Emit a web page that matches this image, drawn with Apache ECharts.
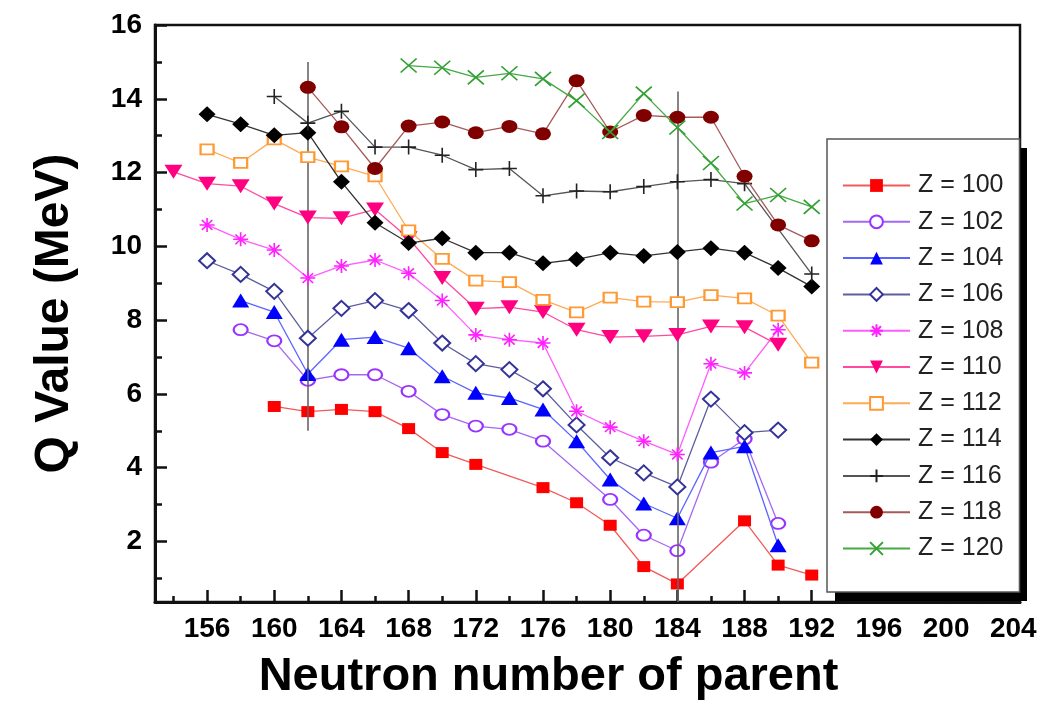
<!DOCTYPE html>
<html><head><meta charset="utf-8">
<script src="https://cdn.jsdelivr.net/npm/echarts@6/dist/echarts.min.js"></script>
<style>html,body{margin:0;padding:0;background:#fff}#c{width:1040px;height:706px}</style>
</head><body><div id="c"></div>
<script>
// ---- data (neutron number of parent, Q value in MeV) ----
const z100 = [[160,5.66],[162,5.52],[164,5.58],[166,5.52],[168,5.06],[170,4.41],[172,4.09],[176,3.46],[178,3.05],[180,2.44],[182,1.32],[184,0.85],[188,2.56],[190,1.36],[192,1.09]];
const z102 = [[158,7.74],[160,7.44],[162,6.37],[164,6.52],[166,6.52],[168,6.07],[170,5.44],[172,5.13],[174,5.04],[176,4.72],[180,3.14],[182,2.17],[184,1.75],[186,4.15],[188,4.78],[190,2.49]];
const z104 = [[158,8.53],[160,8.22],[162,6.54],[164,7.47],[166,7.54],[168,7.24],[170,6.48],[172,6.03],[174,5.89],[176,5.58],[178,4.72],[180,3.68],[182,3.03],[184,2.63],[186,4.41],[188,4.58],[190,1.9]];
const z106 = [[156,9.61],[158,9.24],[160,8.78],[162,7.51],[164,8.32],[166,8.53],[168,8.26],[170,7.38],[172,6.82],[174,6.66],[176,6.14],[178,5.16],[180,4.27],[182,3.86],[184,3.48],[186,5.86],[188,4.95],[190,5.02]];
const z108 = [[156,10.58],[158,10.19],[160,9.9],[162,9.14],[164,9.47],[166,9.63],[168,9.27],[170,8.53],[172,7.6],[174,7.47],[176,7.38],[178,5.53],[180,5.1],[182,4.72],[184,4.36],[186,6.82],[188,6.57],[190,7.74]];
const z110 = [[154,12.02],[156,11.7],[158,11.63],[160,11.16],[162,10.78],[164,10.76],[166,11.0],[168,10.22],[170,9.14],[172,8.31],[174,8.35],[176,8.22],[178,7.74],[180,7.54],[182,7.56],[184,7.6],[186,7.83],[188,7.81],[190,7.33]];
const z112 = [[156,12.63],[158,12.26],[160,12.9],[162,12.42],[164,12.17],[166,11.9],[168,10.43],[170,9.66],[172,9.07],[174,9.03],[176,8.55],[178,8.21],[180,8.61],[182,8.5],[184,8.49],[186,8.68],[188,8.59],[190,8.12],[192,6.85]];
const z114 = [[156,13.58],[158,13.31],[160,13.01],[162,13.08],[164,11.75],[166,10.64],[168,10.09],[170,10.22],[172,9.83],[174,9.83],[176,9.54],[178,9.65],[180,9.83],[182,9.74],[184,9.85],[186,9.95],[188,9.83],[190,9.41],[192,8.91]];
const z116 = [[160,14.06],[162,13.34],[164,13.66],[166,12.69],[168,12.69],[170,12.47],[172,12.08],[174,12.11],[176,11.37],[178,11.5],[180,11.48],[182,11.62],[184,11.75],[186,11.81],[188,11.7],[192,9.25]];
const z118 = [[162,14.31],[164,13.24],[166,12.11],[168,13.26],[170,13.37],[172,13.08],[174,13.25],[176,13.05],[178,14.49],[180,13.1],[182,13.55],[184,13.5],[186,13.5],[188,11.9],[190,10.58],[192,10.15]];
const z120 = [[168,14.9],[170,14.84],[172,14.58],[174,14.69],[176,14.54],[178,13.95],[180,13.1],[182,14.14],[184,13.22],[186,12.26],[188,11.16],[190,11.39],[192,11.07]];

const seriesNames = ['Z = 100','Z = 102','Z = 104','Z = 106','Z = 108','Z = 110','Z = 112','Z = 114','Z = 116','Z = 118','Z = 120'];
const seriesData = [z100,z102,z104,z106,z108,z110,z112,z114,z116,z118,z120];

// tick labels
const xTickLabels = [156,160,164,168,172,176,180,184,188,192,196,200,204];
const xMinorTicks = [154,158,162,166,170,174,178,182,186,190,194,198,202];
const yTickLabels = [2,4,6,8,10,12,14,16];
const yMinorTicks = [1,3,5,7,9,11,13,15];

// reference vertical lines (neutron number, Q from, Q to)
const refLines = [{n:162, from:5, to:15}, {n:184, from:0.36, to:14.2}];

// ---- styles ----
const STAR = 'path://M5 0L5 10M0 5L10 5M1.5 1.5L8.5 8.5M8.5 1.5L1.5 8.5';
const PLUS = 'path://M5 0L5 10M0 5L10 5';
const CROSS = 'path://M0 0L10 10M10 0L0 10';
const styles = [
  {c:'#ff0000', l:'#f25a5a', s:'rect', sz:[13,11]},
  {c:'#9933ff', l:'#a468f2', s:'emptyCircle', sz:[14,11]},
  {c:'#0000ff', l:'#5a64ff', s:'triangle', sz:[17,14]},
  {c:'#333399', l:'#5e5e9e', s:'emptyDiamond', sz:[16,15]},
  {c:'#ff22ff', l:'#ff5cff', s:STAR, sz:[15,14], stroke:true},
  {c:'#ff0080', l:'#ff4aa0', s:'triangle', sz:[18,14], rot:180},
  {c:'#ff9933', l:'#ffaa55', s:'emptyRect', sz:[13,10]},
  {c:'#000000', l:'#333333', s:'diamond', sz:[17,16]},
  {c:'#222222', l:'#555555', s:PLUS, sz:[15,15], stroke:true},
  {c:'#800000', l:'#a55a5a', s:'circle', sz:[16,13]},
  {c:'#33a033', l:'#44aa44', s:CROSS, sz:[16,14], stroke:true}
];

const FONT = 'Liberation Sans, Arial, sans-serif';
const XMIN = 152.9, XMAX = 204.4, YMIN = 0.36, YMAX = 16;

const series = [{
  type:'line', name:'__ref', data:[], z:1, silent:true,
  markLine:{silent:true, symbol:['none','none'], label:{show:false},
    lineStyle:{color:'#666', width:1.6, type:'solid'},
    emphasis:{disabled:true},
    data: refLines.map(r => [{coord:[r.n, r.from]}, {coord:[r.n, r.to]}])}
}];
seriesNames.forEach((name, i) => {
  const st = styles[i];
  series.push({
    type:'line', name, data: seriesData[i], xAxisIndex:0, yAxisIndex:0,
    symbol: st.s, symbolSize: st.sz, symbolRotate: st.rot || 0,
    showAllSymbol:true,
    lineStyle:{color: st.l, width:1.3},
    itemStyle: st.stroke ? {color: st.c, borderColor: st.c, borderWidth:1.6} : {color: st.c},
    emphasis:{disabled:true},
    z: 2 + i
  });
});

const chart = echarts.init(document.getElementById('c'), null, {renderer:'canvas'});
chart.setOption({
  animation:false,
  backgroundColor:'#fff',
  grid:{left:155, top:25, right:20, bottom:103, show:true, borderColor:'#111', borderWidth:2.5, backgroundColor:'transparent'},
  graphic:[{
    type:'rect', left:835, top:148, z:19, silent:true,
    shape:{width:192, height:453}, style:{fill:'#000'}
  }],
  xAxis:[{
    type:'value', min:XMIN, max:XMAX, position:'bottom',
    name:'Neutron number of parent', nameLocation:'middle', nameGap:52,
    nameTextStyle:{fontFamily:FONT, fontWeight:'bold', fontSize:47, color:'#000', padding:[0,78,0,0]},
    axisLine:{show:true, lineStyle:{color:'#111', width:3}},
    axisTick:{show:true, inside:true, length:12, lineStyle:{color:'#111', width:2.5}, customValues:xTickLabels},
    axisLabel:{show:true, customValues:xTickLabels, fontFamily:FONT, fontWeight:'bold', fontSize:28, color:'#000', margin:13},
    splitLine:{show:false}
  },{
    type:'value', min:XMIN, max:XMAX, position:'bottom', offset:0,
    axisLine:{show:false},
    axisTick:{show:true, inside:true, length:6, lineStyle:{color:'#111', width:2.5}, customValues:xMinorTicks},
    axisLabel:{show:false}, splitLine:{show:false}
  }],
  yAxis:[{
    type:'value', min:YMIN, max:YMAX, position:'left',
    name:'Q Value (MeV)', nameLocation:'middle', nameGap:76,
    nameTextStyle:{fontFamily:FONT, fontWeight:'bold', fontSize:48, color:'#000'},
    axisLine:{show:true, lineStyle:{color:'#111', width:3}},
    axisTick:{show:true, inside:true, length:12, lineStyle:{color:'#111', width:2.5}, customValues:yTickLabels},
    axisLabel:{show:true, customValues:yTickLabels, fontFamily:FONT, fontWeight:'bold', fontSize:28, color:'#000', margin:13},
    splitLine:{show:false}
  },{
    type:'value', min:YMIN, max:YMAX, position:'left', offset:0,
    axisLine:{show:false},
    axisTick:{show:true, inside:true, length:7, lineStyle:{color:'#111', width:2.5}, customValues:yMinorTicks},
    axisLabel:{show:false}, splitLine:{show:false}
  }],
  legend:{
    show:true, data:seriesNames, orient:'vertical', left:827, top:139, z:20,
    padding:[34,16,31,15], itemGap:11.3, itemWidth:67, itemHeight:16,
    backgroundColor:'#fff', borderColor:'#555', borderWidth:1.5,
    textStyle:{fontFamily:FONT, fontSize:25, color:'#222', padding:[0,0,0,3]},
    selectedMode:false
  },
  series
});
</script></body></html>
